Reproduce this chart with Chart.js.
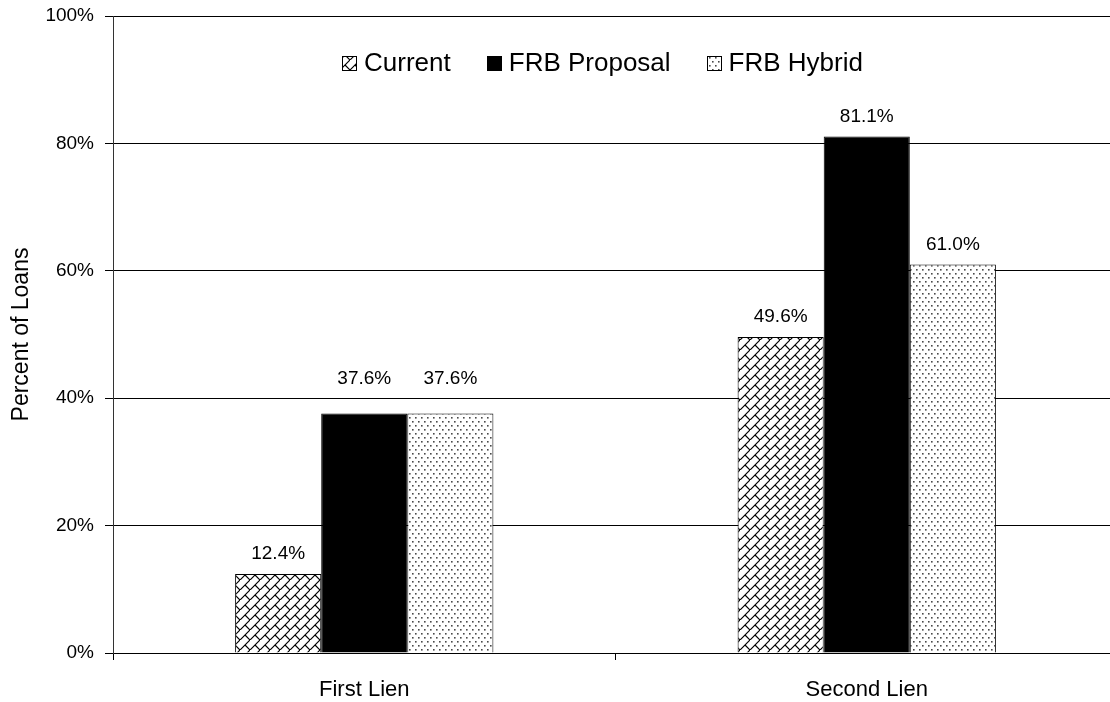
<!DOCTYPE html>
<html>
<head>
<meta charset="utf-8">
<script src="https://cdn.jsdelivr.net/npm/chart.js@4.4.0/dist/chart.umd.min.js"></script>
<style>
  html, body { margin: 0; padding: 0; background: #fff; overflow: hidden; }
  #wrap { width: 1118px; height: 702px; }
</style>
</head>
<body>
<div id="wrap"><canvas id="c" width="1118" height="702"></canvas></div>
<script>
// Loan shares by lien position under each rule set
const categories = ['First Lien', 'Second Lien'];
const seriesNames = ['Current', 'FRB Proposal', 'FRB Hybrid'];
const currentValues = [12.4, 49.6];
const proposalValues = [37.6, 81.1];
const hybridValues = [37.6, 61.0];
const yTicks = [0, 20, 40, 60, 80, 100];

const FONT = '"Liberation Sans", Arial, sans-serif';

// Diagonal brick hatch: long "/" strokes joined by short "\" dividers
function brickPattern() {
  const s = 10;
  const c = document.createElement('canvas');
  c.width = s; c.height = s;
  const g = c.getContext('2d');
  g.fillStyle = '#fff';
  g.fillRect(0, 0, s, s);
  g.strokeStyle = '#000';
  g.lineWidth = 1.2;
  g.beginPath();
  g.moveTo(-1, s + 1); g.lineTo(s + 1, -1);
  g.moveTo(s / 2, s / 2); g.lineTo(s + 1, s + 1);
  g.stroke();
  return g.createPattern(c, 'repeat');
}

// Sparse staggered dot fill
function dotPattern() {
  const c = document.createElement('canvas');
  c.width = 6; c.height = 8;
  const g = c.getContext('2d');
  g.fillStyle = '#fff';
  g.fillRect(0, 0, 6, 8);
  g.fillStyle = '#4a4a4a';
  g.fillRect(1, 1, 1.6, 1.6);
  g.fillRect(4, 5, 1.6, 1.6);
  return g.createPattern(c, 'repeat');
}

const fills = [brickPattern(), '#000', dotPattern()];
const seriesValues = [currentValues, proposalValues, hybridValues];

// Percent labels above each bar; a label that would sit on a gridline is lifted clear of it
const valueLabels = {
  id: 'valueLabels',
  afterDatasetsDraw(chart) {
    const ctx = chart.ctx;
    const yScale = chart.scales.y;
    const gridYs = yTicks.map(v => yScale.getPixelForValue(v));
    const half = 10;
    ctx.save();
    ctx.font = '19px ' + FONT;
    ctx.fillStyle = '#000';
    ctx.textAlign = 'center';
    ctx.textBaseline = 'middle';
    chart.data.datasets.forEach((ds, i) => {
      chart.getDatasetMeta(i).data.forEach((el, j) => {
        let y = el.y - 20;
        gridYs.forEach(gy => {
          if (gy > y - half && gy < y + half) y = gy - 19;
        });
        ctx.fillText(ds.data[j].toFixed(1) + '%', el.x, y);
      });
    });
    ctx.restore();
  }
};

// Legend row drawn inside the plot area
const innerLegend = {
  id: 'innerLegend',
  afterDraw(chart) {
    const ctx = chart.ctx;
    const area = chart.chartArea;
    const box = 14, boxGap = 8, itemGap = 36;
    ctx.save();
    ctx.font = '26px ' + FONT;
    const items = chart.data.datasets.map(ds => ({
      label: ds.label, fill: ds.backgroundColor, w: ctx.measureText(ds.label).width
    }));
    const total = items.reduce((a, it) => a + box + boxGap + it.w, 0) + itemGap * (items.length - 1);
    let x = (area.left + area.right) / 2 - 13 - total / 2;
    const y = 63;
    items.forEach(it => {
      const bx = Math.round(x), by = Math.round(y - box / 2);
      ctx.fillStyle = it.fill;
      ctx.fillRect(bx, by, box, box);
      ctx.strokeStyle = '#000';
      ctx.lineWidth = 1;
      ctx.strokeRect(bx + 0.5, by + 0.5, box, box);
      ctx.fillStyle = '#000';
      ctx.textAlign = 'left';
      ctx.textBaseline = 'middle';
      ctx.fillText(it.label, x + box + boxGap, y + 1);
      x += box + boxGap + it.w + itemGap;
    });
    ctx.restore();
  }
};

new Chart(document.getElementById('c'), {
  type: 'bar',
  data: {
    labels: categories,
    datasets: seriesNames.map((name, i) => ({
      label: name,
      data: seriesValues[i],
      backgroundColor: fills[i],
      borderColor: '#000',
      borderWidth: 1,
      categoryPercentage: 0.514,
      barPercentage: 1
    }))
  },
  options: {
    responsive: false,
    animation: false,
    devicePixelRatio: 1,
    layout: { padding: { top: 16, left: 0, right: 0, bottom: 0 } },
    plugins: { legend: { display: false }, tooltip: { enabled: false } },
    scales: {
      x: {
        grid: { display: true, drawOnChartArea: false, drawTicks: true, tickLength: 7, color: '#000', offset: true },
        border: { color: '#000', width: 1 },
        ticks: { font: { family: FONT, size: 22 }, color: '#000', padding: 17 },
        afterFit(s) { s.height = 49; }
      },
      y: {
        min: 0,
        max: 100,
        afterBuildTicks(s) { s.ticks = yTicks.map(v => ({ value: v })); },
        ticks: { callback: v => v + '%', font: { family: FONT, size: 19 }, color: '#000', padding: 11 },
        grid: { color: '#000', lineWidth: 1, tickLength: 8 },
        border: { color: '#333', width: 1 },
        title: {
          display: true,
          text: 'Percent of Loans',
          font: { family: FONT, size: 23 },
          color: '#000',
          padding: { top: 8, bottom: 0 }
        },
        afterFit(s) {
          s.width = 113;
          s.paddingTop = 0;
          s.paddingBottom = 0;
        }
      }
    }
  },
  plugins: [valueLabels, innerLegend]
});
</script>
</body>
</html>
